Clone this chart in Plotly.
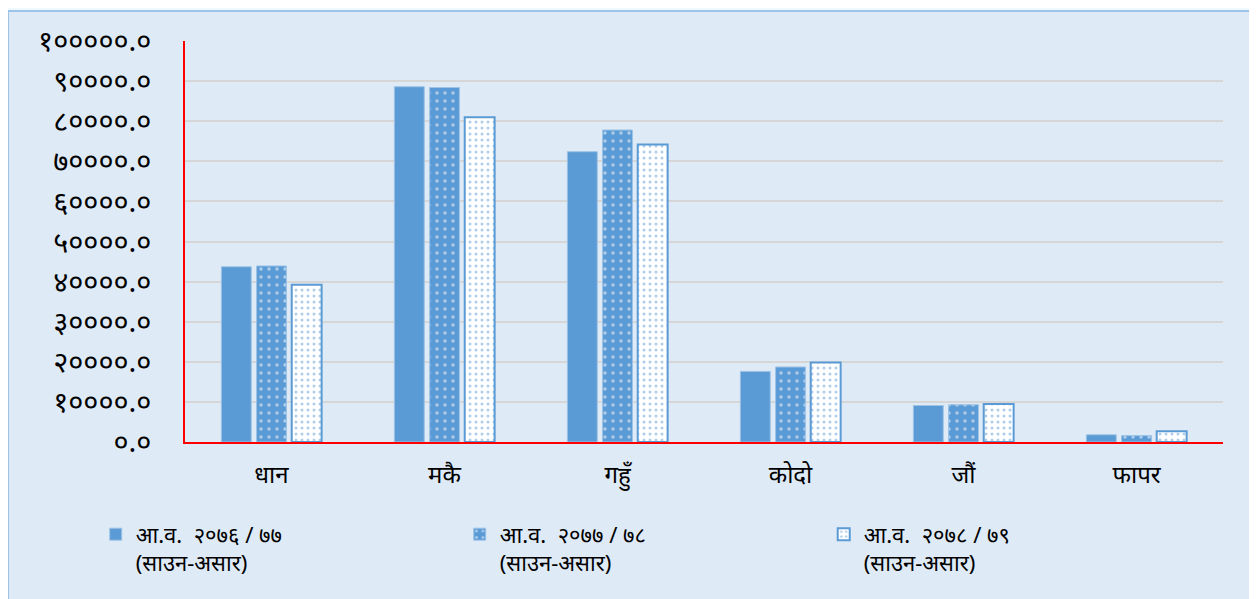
import plotly.graph_objects as go

crops = ["धान", "मकै", "गहुँ", "कोदो", "जौं", "फापर"]

fy_2076_77 = [43700, 88600, 72400, 17600, 9100, 1800]
fy_2077_78 = [43900, 88400, 77800, 18700, 9300, 1600]
fy_2078_79 = [39200, 81000, 74200, 19800, 9500, 2700]

series_names = [
    "आ.व.  २०७६ / ७७<br>(साउन-असार)",
    "आ.व.  २०७७ / ७८<br>(साउन-असार)",
    "आ.व.  २०७८ / ७९<br>(साउन-असार)",
]

y_tickvals = [0, 10000, 20000, 30000, 40000, 50000, 60000, 70000, 80000, 90000, 100000]
y_ticktext = ["०.०", "१००००.०", "२००००.०", "३००००.०", "४००००.०", "५००००.०",
              "६००००.०", "७००००.०", "८००००.०", "९००००.०", "१०००००.०"]

BLUE = "#5b9bd5"
FONT = "Noto Sans, DejaVu Sans, sans-serif"

fig = go.Figure()

fig.add_trace(go.Bar(
    x=crops, y=fy_2076_77, name=series_names[0],
    marker=dict(color=BLUE, line=dict(color="#9dc3e6", width=1)),
))
fig.add_trace(go.Bar(
    x=crops, y=fy_2077_78, name=series_names[1],
    marker=dict(
        color=BLUE,
        line=dict(color="#9dc3e6", width=1),
        pattern=dict(shape=".", bgcolor=BLUE, fgcolor="white", size=8, solidity=0.15),
    ),
))
fig.add_trace(go.Bar(
    x=crops, y=fy_2078_79, name=series_names[2],
    marker=dict(
        color="white",
        line=dict(color=BLUE, width=2),
        pattern=dict(shape=".", bgcolor="white", fgcolor=BLUE, size=6, solidity=0.2),
    ),
))

# chart box (light blue fill with border), drawn behind the plot
fig.add_shape(
    type="rect", xref="paper", yref="paper",
    x0=-0.1705, x1=1.0279, y0=-0.44, y1=1.075,
    fillcolor="#deeaf6", line=dict(color="#9dc3e6", width=2), layer="below",
)

fig.update_layout(
    width=1257, height=599,
    paper_bgcolor="#eef8fd",
    plot_bgcolor="rgba(0,0,0,0)",
    margin=dict(l=177, r=42, t=30, b=165),
    barmode="group",
    bargap=0.39,
    bargroupgap=0.15,
    font=dict(family=FONT, color="black"),
    showlegend=True,
    legend=dict(
        orientation="h",
        x=-0.086, xanchor="left",
        y=-0.178, yanchor="top",
        entrywidth=319, entrywidthmode="pixels",
        valign="top",
        font=dict(size=22, family=FONT),
        bgcolor="rgba(0,0,0,0)",
        itemwidth=30,
        traceorder="normal",
    ),
    yaxis=dict(
        range=[0, 100000],
        tickvals=y_tickvals,
        ticktext=y_ticktext,
        tickfont=dict(size=29),
        showgrid=True, gridcolor="#d6d6d6", gridwidth=1.5,
        showline=True, linecolor="red", linewidth=1.5,
        zeroline=False,
        ticklabelstandoff=26,
    ),
    xaxis=dict(
        tickfont=dict(size=24),
        showline=True, linecolor="red", linewidth=2,
        ticklabelstandoff=10,
    ),
)

fig.write_html("out.html")
